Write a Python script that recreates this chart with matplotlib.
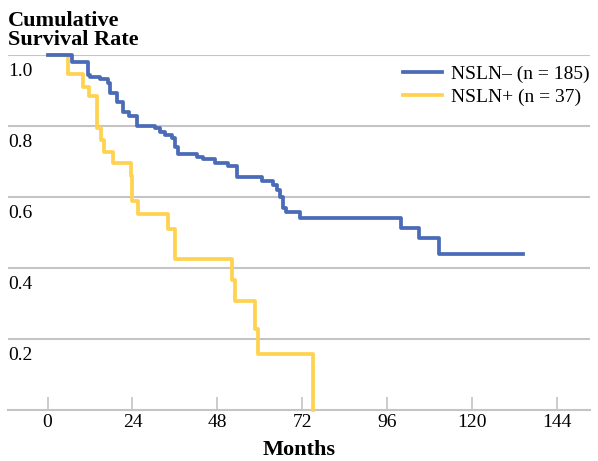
import matplotlib
matplotlib.use("Agg")
import matplotlib.pyplot as plt

# NSLN- (n = 185): step times (months) and survival after each step
neg_months = [0, 6.8, 11.5, 12, 14.8, 17.2, 17.7, 19.6, 21.3, 23, 25.2, 30.4, 31.8,
              33.2, 35.1, 36, 37, 42.1, 44, 47.3, 51, 53.5, 60.6, 63.7, 64.8, 65.7,
              66.5, 67.4, 71.3, 100, 105, 110.6, 134.3]
neg_surv = [1.0, 0.981, 0.944, 0.939, 0.932, 0.92, 0.892, 0.868, 0.84, 0.829, 0.80,
            0.794, 0.784, 0.775, 0.765, 0.742, 0.72, 0.714, 0.706, 0.697, 0.687,
            0.657, 0.646, 0.634, 0.62, 0.60, 0.57, 0.559, 0.541, 0.514, 0.484,
            0.439, 0.439]

# NSLN+ (n = 37)
pos_months = [0, 5.8, 10, 11.7, 14, 15, 16, 18.5, 23.5, 24, 25.5, 34, 36, 52, 53,
              58.6, 59.4, 75]
pos_surv = [1.0, 0.946, 0.91, 0.885, 0.795, 0.76, 0.728, 0.696, 0.66, 0.59, 0.552,
            0.51, 0.425, 0.366, 0.308, 0.228, 0.158, 0.0]

xticks = [0, 24, 48, 72, 96, 120, 144]
yticks = [0.2, 0.4, 0.6, 0.8, 1.0]
labels = ["NSLN\u2013 (n = 185)", "NSLN+ (n = 37)"]
blue = "#4a6bb8"
yellow = "#ffd24f"
grid_col = "#c4c4c4"

plt.rcParams["font.family"] = ["Liberation Serif", "DejaVu Serif"]

fig = plt.figure(figsize=(5.98, 4.61), dpi=100)
ax = fig.add_axes([8 / 598, 51 / 461, 582 / 598, 355 / 461])

ax.plot(pos_months, pos_surv, drawstyle="steps-post", color=yellow, lw=2.7,
        label=labels[1], zorder=3, clip_on=False)
ax.plot(neg_months, neg_surv, drawstyle="steps-post", color=blue, lw=2.7,
        label=labels[0], zorder=4, clip_on=False)

ax.set_xlim(-11.16, 153.25)
ax.set_ylim(0, 1.0)

for s in ["top", "right", "left"]:
    ax.spines[s].set_visible(False)
ax.spines["bottom"].set_color(grid_col)
ax.spines["bottom"].set_linewidth(1.5)

ax.set_xticks(xticks)
ax.set_xticklabels([str(t) for t in xticks])
ax.tick_params(axis="x", direction="in", length=9.5, width=1.2, color=grid_col,
               labelsize=14, pad=3)

ax.set_yticks([])
for y in yticks:
    ax.axhline(y, color=grid_col, lw=1.5, zorder=1)
    ax.text(0, y - 0.022, "%.1f" % y, transform=ax.get_yaxis_transform(),
            ha="left", va="top", fontsize=14)

ax.set_xlabel("Months", fontsize=16, fontweight="bold", labelpad=6)

fig.text(8 / 598, 1 - 11 / 461, "Cumulative\nSurvival Rate", ha="left", va="top",
         fontsize=16, fontweight="bold", linespacing=0.95)

h, l = ax.get_legend_handles_labels()
ax.legend(h[::-1], l[::-1], loc="upper left", bbox_to_anchor=(0.679, 0.972),
          frameon=False, fontsize=14, handlelength=2.0, handletextpad=0.45,
          labelspacing=0.3, borderpad=0, borderaxespad=0)

fig.savefig("out.png", dpi=100)
